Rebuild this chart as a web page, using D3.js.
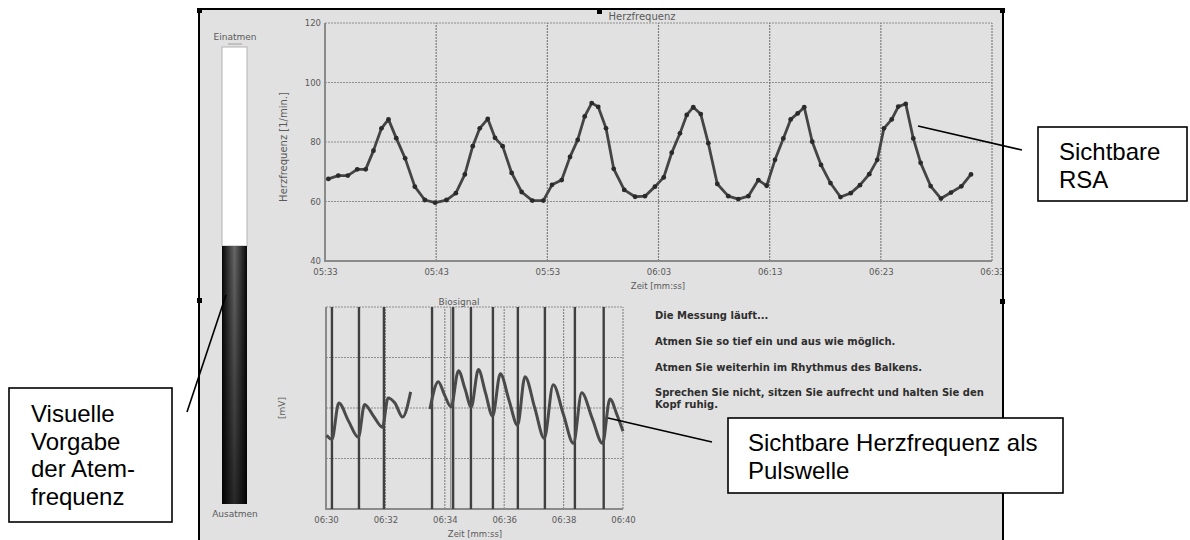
<!DOCTYPE html>
<html>
<head>
<meta charset="utf-8">
<script src="https://cdn.jsdelivr.net/npm/d3@7"></script>
<style>
  html, body { margin: 0; padding: 0; background: #ffffff; }
  svg { display: block; }
  .small { font-family: "DejaVu Sans", sans-serif; fill: #5a5a5a; }
  .note { font-family: "Liberation Sans", Arial, sans-serif; fill: #000; }
</style>
</head>
<body>
<svg id="chart" width="1190" height="540"></svg>
<script>
// ---- Heart rate (beat-to-beat), time in seconds, rate in 1/min ----
const hrTimes = [333.3, 334.2, 335.05, 335.9, 336.66, 337.36, 338.08, 338.71, 339.41, 340.21,
  341.08, 341.98, 342.91, 343.93, 344.77, 345.58, 346.29, 346.92, 347.64, 348.29,
  348.98, 349.79, 350.69, 351.65, 352.64, 353.42, 354.29, 355.04, 355.73, 356.36,
  356.99, 357.58, 358.28, 358.97, 359.92, 360.89, 361.78, 362.68, 363.47, 364.19,
  364.93, 365.54, 366.13, 366.8, 367.48, 368.29, 369.28, 370.18, 371.08, 371.98,
  372.73, 373.48, 374.23, 374.89, 375.52, 376.11, 376.83, 377.62, 378.47, 379.37,
  380.29, 381.12, 381.96, 382.68, 383.28, 383.98, 384.57, 385.24, 385.92, 386.58,
  387.48, 388.41, 389.31, 390.24, 391.11];
const hrValues = [67.6, 68.7, 68.7, 70.8, 70.8, 77.1, 84.6, 87.6, 81.3, 74.5,
  65.0, 60.5, 59.6, 60.5, 62.8, 69.1, 78.6, 84.6, 87.8, 81.4,
  78.6, 69.6, 63.2, 60.3, 60.3, 65.6, 67.2, 75.0, 80.7, 88.6,
  93.1, 91.8, 84.6, 71.0, 63.9, 61.6, 61.8, 65.0, 68.1, 76.4,
  82.9, 89.1, 91.7, 89.4, 79.6, 65.9, 61.8, 60.8, 61.8, 67.2,
  65.3, 74.0, 81.2, 87.6, 89.6, 91.7, 80.1, 72.3, 66.2, 61.5,
  62.8, 65.5, 69.2, 74.0, 84.6, 87.6, 91.9, 92.8, 81.2, 73.0,
  65.2, 61.0, 63.0, 65.1, 69.1];
const hrXTicks = [333, 343, 353, 363, 373, 383, 393];
const hrYTicks = [40, 60, 80, 100, 120];

// ---- Pulse wave (biosignal), time in seconds, amplitude in mV; null = signal gap ----
const pulseTimes = [390.02, 390.20, 390.43, 390.76, 391.09, 391.30, 391.60, 391.90, 392.09, 392.32, 392.58, 392.85,
  393.1,
  393.50, 393.78, 393.99, 394.21, 394.46, 394.68, 394.89, 395.13, 395.37, 395.61, 395.87, 396.16, 396.45,
  396.70, 397.03, 397.35, 397.65, 397.99, 398.33, 398.61, 398.96, 399.31, 399.56, 399.80, 400.0];
const pulseValues = [-0.27, -0.31, 0.05, -0.13, -0.29, 0.035, -0.08, -0.19, 0.10, 0.05, -0.09, 0.16,
  null,
  -0.01, 0.26, 0.13, 0.01, 0.37, 0.19, 0.01, 0.38, 0.15, -0.08, 0.34, 0.08, -0.17,
  0.31, 0.0, -0.30, 0.23, -0.06, -0.35, 0.15, -0.10, -0.35, 0.09, -0.07, -0.23];
// detected beats (vertical markers)
const beatTimes = [390.20, 391.11, 391.95, 393.57, 394.28, 394.88, 395.62, 396.46, 397.37, 398.38, 399.35];
const faintBeatTimes = [394.2];
const pulseXTicks = [390, 392, 394, 396, 398, 400];
const pulseYTicks = [-1, -0.5, 0, 0.5, 1];

// ---- Texts ----
const instructions = [
  "Die Messung läuft...",
  "Atmen Sie so tief ein und aus wie möglich.",
  "Atmen Sie weiterhin im Rhythmus des Balkens.",
  "Sprechen Sie nicht, sitzen Sie aufrecht und halten Sie den",
  "Kopf ruhig."
];
const calloutRSA = ["Sichtbare", "RSA"];
const calloutPulse = ["Sichtbare Herzfrequenz als", "Pulswelle"];
const calloutBreath = ["Visuelle", "Vorgabe", "der Atem-", "frequenz"];

const fmtTime = s => {
  const m = Math.floor(s / 60), r = Math.round(s - m * 60);
  return String(m).padStart(2, "0") + ":" + String(r).padStart(2, "0");
};

const svg = d3.select("#chart");
const defs = svg.append("defs");

defs.append("clipPath").attr("id", "screen")
  .append("rect").attr("x", 199).attr("y", 9).attr("width", 804).attr("height", 531);

// breathing bar shading
const gH = defs.append("linearGradient").attr("id", "barH").attr("x1", 0).attr("x2", 1).attr("y1", 0).attr("y2", 0);
gH.append("stop").attr("offset", 0).attr("stop-color", "#060606");
gH.append("stop").attr("offset", 0.5).attr("stop-color", "#666666");
gH.append("stop").attr("offset", 1).attr("stop-color", "#060606");
const gV = defs.append("linearGradient").attr("id", "barV").attr("x1", 0).attr("x2", 0).attr("y1", 0).attr("y2", 1);
gV.append("stop").attr("offset", 0).attr("stop-color", "#000").attr("stop-opacity", 0);
gV.append("stop").attr("offset", 1).attr("stop-color", "#000").attr("stop-opacity", 0.6);

// ---- software window ----
const scr = svg.append("g").attr("clip-path", "url(#screen)");
scr.append("rect").attr("x", 199).attr("y", 9).attr("width", 804).attr("height", 531).attr("fill", "#e1e1e1");

// ===== Heart rate chart =====
const hrX = d3.scaleLinear().domain([333, 393]).range([325, 992]);
const hrY = d3.scaleLinear().domain([40, 120]).range([261, 23]);
const hrG = scr.append("g");

hrG.append("g").selectAll("line").data(hrYTicks.slice(1)).join("line")
  .attr("x1", hrX.range()[0]).attr("x2", hrX.range()[1])
  .attr("y1", d => hrY(d)).attr("y2", d => hrY(d))
  .attr("stroke", "#8e8e8e").attr("stroke-width", 1.2).attr("stroke-dasharray", "2,1");
hrG.append("g").selectAll("line").data(hrXTicks.slice(1)).join("line")
  .attr("x1", d => hrX(d)).attr("x2", d => hrX(d))
  .attr("y1", hrY.range()[0]).attr("y2", hrY.range()[1])
  .attr("stroke", "#7e7e7e").attr("stroke-width", 1.2).attr("stroke-dasharray", "2,1");
hrG.append("path")
  .attr("d", `M${hrX.range()[0]},${hrY.range()[1]}V${hrY.range()[0]}H${hrX.range()[1]}`)
  .attr("fill", "none").attr("stroke", "#8a8a8a").attr("stroke-width", 2);

const hrAxisX = hrG.append("g").attr("transform", `translate(0,${hrY.range()[0]})`)
  .call(d3.axisBottom(hrX).tickValues(hrXTicks).tickFormat(fmtTime).tickSize(0).tickPadding(8));
const hrAxisY = hrG.append("g").attr("transform", `translate(${hrX.range()[0]},0)`)
  .call(d3.axisLeft(hrY).tickValues(hrYTicks).tickSize(0).tickPadding(4));
[hrAxisX, hrAxisY].forEach(a => {
  a.select(".domain").remove();
  a.selectAll("text").attr("class", "small").attr("font-size", 8.5).attr("fill", "#5a5a5a");
});

hrG.append("text").attr("class", "small").attr("font-size", 10)
  .attr("x", 642).attr("y", 20).attr("text-anchor", "middle").text("Herzfrequenz");
hrG.append("text").attr("class", "small").attr("font-size", 10)
  .attr("transform", "translate(287,147) rotate(-90)").attr("text-anchor", "middle")
  .text("Herzfrequenz [1/min.]");
hrG.append("text").attr("class", "small").attr("font-size", 8.5)
  .attr("x", 658).attr("y", 289).attr("text-anchor", "middle").text("Zeit [mm:ss]");

const hrData = hrTimes.map((t, i) => ({ t, v: hrValues[i] }));
hrG.append("path").datum(hrData)
  .attr("d", d3.line().x(d => hrX(d.t)).y(d => hrY(d.v)))
  .attr("fill", "none").attr("stroke", "#444444").attr("stroke-width", 2.8)
  .attr("stroke-linejoin", "round");
hrG.append("g").selectAll("circle").data(hrData).join("circle")
  .attr("cx", d => hrX(d.t)).attr("cy", d => hrY(d.v)).attr("r", 2.4)
  .attr("fill", "#2a2a2a");

// ===== Pulse wave chart =====
const pX = d3.scaleLinear().domain([390, 400]).range([326, 623]);
const pY = d3.scaleLinear().domain([-1, 1]).range([509, 307]);
const bot = scr.append("g");

bot.append("g").selectAll("line").data(pulseYTicks.slice(1)).join("line")
  .attr("x1", pX.range()[0]).attr("x2", pX.range()[1])
  .attr("y1", d => pY(d)).attr("y2", d => pY(d))
  .attr("stroke", "#8e8e8e").attr("stroke-width", 1.2).attr("stroke-dasharray", "2,1");
bot.append("g").selectAll("line").data(pulseXTicks.slice(1)).join("line")
  .attr("x1", d => pX(d)).attr("x2", d => pX(d))
  .attr("y1", pY.range()[0]).attr("y2", pY.range()[1])
  .attr("stroke", "#8a8a8a").attr("stroke-width", 1.2).attr("stroke-dasharray", "2,1");
bot.append("path")
  .attr("d", `M${pX.range()[0]},${pY.range()[1]}V${pY.range()[0]}H${pX.range()[1]}`)
  .attr("fill", "none").attr("stroke", "#8a8a8a").attr("stroke-width", 2);

bot.append("g").selectAll("line").data(faintBeatTimes).join("line")
  .attr("x1", d => pX(d)).attr("x2", d => pX(d))
  .attr("y1", pY.range()[0]).attr("y2", pY.range()[1])
  .attr("stroke", "#9a9a9a").attr("stroke-width", 1.5);
bot.append("g").selectAll("line").data(beatTimes).join("line")
  .attr("x1", d => pX(d)).attr("x2", d => pX(d))
  .attr("y1", pY.range()[0]).attr("y2", pY.range()[1])
  .attr("stroke", "#404040").attr("stroke-width", 2.4);

const pData = pulseTimes.map((t, i) => ({ t, v: pulseValues[i] }));
bot.append("path").datum(pData)
  .attr("d", d3.line().defined(d => d.v !== null)
    .x(d => pX(d.t)).y(d => pY(d.v)).curve(d3.curveMonotoneX))
  .attr("fill", "none").attr("stroke", "#4a4a4a").attr("stroke-width", 3)
  .attr("stroke-linejoin", "round");

const pAxisX = bot.append("g").attr("transform", `translate(0,${pY.range()[0]})`)
  .call(d3.axisBottom(pX).tickValues(pulseXTicks).tickFormat(fmtTime).tickSize(0).tickPadding(8));
pAxisX.select(".domain").remove();
pAxisX.selectAll("text").attr("class", "small").attr("font-size", 8.5).attr("fill", "#5a5a5a");

bot.append("text").attr("class", "small").attr("font-size", 9)
  .attr("x", 459).attr("y", 305).attr("text-anchor", "middle").text("Biosignal");
bot.append("text").attr("class", "small").attr("font-size", 9)
  .attr("transform", "translate(285,408) rotate(-90)").attr("text-anchor", "middle").text("[mV]");
bot.append("text").attr("class", "small").attr("font-size", 8.5)
  .attr("x", 475).attr("y", 537).attr("text-anchor", "middle").text("Zeit [mm:ss]");

// ===== instructions =====
const instrY = [319, 345, 371, 396, 408];
scr.append("g").selectAll("text").data(instructions).join("text")
  .attr("x", 655).attr("y", (d, i) => instrY[i])
  .attr("font-family", "DejaVu Sans, sans-serif").attr("font-weight", "bold")
  .attr("font-size", 10).attr("fill", "#2e2e2e").text(d => d);

// ===== breathing bar =====
scr.append("text").attr("class", "small").attr("font-size", 9)
  .attr("x", 235).attr("y", 40).attr("text-anchor", "middle").text("Einatmen");
scr.append("line").attr("x1", 228).attr("x2", 242).attr("y1", 44).attr("y2", 44)
  .attr("stroke", "#a0a0a0").attr("stroke-width", 1);
scr.append("rect").attr("x", 222).attr("y", 47).attr("width", 25).attr("height", 199)
  .attr("fill", "#ffffff").attr("stroke", "#b4b4b4").attr("stroke-width", 1);
scr.append("rect").attr("x", 222).attr("y", 246).attr("width", 25).attr("height", 258)
  .attr("fill", "url(#barH)");
scr.append("rect").attr("x", 222).attr("y", 246).attr("width", 25).attr("height", 258)
  .attr("fill", "url(#barV)");
scr.append("text").attr("class", "small").attr("font-size", 9)
  .attr("x", 235).attr("y", 517).attr("text-anchor", "middle").text("Ausatmen");

// ===== window frame and handles =====
const frame = svg.append("g");
frame.append("path").attr("d", "M199,540V9H1003V540")
  .attr("fill", "none").attr("stroke", "#000").attr("stroke-width", 2);
[[597, 9], [197, 298], [1000, 299], [197, 8], [1000, 8]].forEach(([x, y]) => {
  frame.append("rect").attr("x", x).attr("y", y).attr("width", 5).attr("height", 5).attr("fill", "#000");
});

// ===== callouts =====
const notes = svg.append("g");
function callout(x, y, w, h, lines, tx, ty, lh) {
  notes.append("rect").attr("x", x).attr("y", y).attr("width", w).attr("height", h)
    .attr("fill", "#fff").attr("stroke", "#000").attr("stroke-width", 1.6);
  notes.append("g").selectAll("text").data(lines).join("text")
    .attr("class", "note").attr("font-size", 24)
    .attr("x", tx).attr("y", (d, i) => ty + i * lh).text(d => d);
}
function leader(x1, y1, x2, y2) {
  notes.append("line").attr("x1", x1).attr("y1", y1).attr("x2", x2).attr("y2", y2)
    .attr("stroke", "#000").attr("stroke-width", 1.6);
}
leader(918, 126, 1022, 150);
leader(608, 418, 712, 442);
leader(187, 412, 226, 295);
callout(1038, 127, 149, 74, calloutRSA, 1059, 160, 27.5);
callout(728, 418, 335, 75, calloutPulse, 748, 451, 27.5);
callout(9, 388, 163, 134, calloutBreath, 31, 422, 27.6);
</script>
</body>
</html>
